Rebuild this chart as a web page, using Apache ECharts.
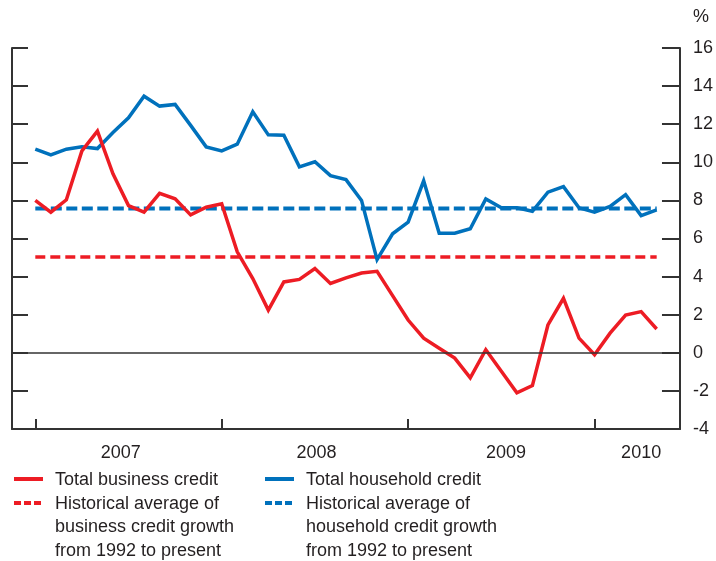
<!DOCTYPE html>
<html>
<head>
<meta charset="utf-8">
<title>Business and household credit growth</title>
<script src="https://cdn.jsdelivr.net/npm/echarts@6/dist/echarts.min.js"></script>
<style>
  html, body { margin: 0; padding: 0; background: #fff; }
  #chart { width: 716px; height: 561px; }
</style>
</head>
<body>
<div id="chart"></div>
<script>
// monthly, Jan 2007 .. May 2010 (index 0 = Jan 2007)
const businessCredit = [8.0, 7.38, 8.03, 10.6, 11.64, 9.4, 7.73, 7.38, 8.37, 8.08, 7.24, 7.64,
  7.82, 5.3, 3.9, 2.24, 3.72, 3.85, 4.42, 3.64, 3.93, 4.19, 4.28, 3.0,
  1.72, 0.77, 0.24, -0.28, -1.32, 0.16, -0.97, -2.1, -1.72, 1.46, 2.86, 0.77,
  -0.1, 1.03, 1.98, 2.16, 1.25]
const householdCredit = [10.69, 10.39, 10.69, 10.81, 10.72, 11.56, 12.34, 13.47, 12.95, 13.04, 11.94, 10.81,
  10.6, 10.95, 12.65, 11.44, 11.42, 9.76, 10.03, 9.3, 9.09, 8.0, 4.89, 6.25,
  6.86, 9.03, 6.28, 6.28, 6.51, 8.08, 7.61, 7.61, 7.43, 8.43, 8.72, 7.61,
  7.38, 7.68, 8.3, 7.2, 7.5]
const businessAvg = 5.03
const householdAvg = 7.57

const yearTicks = [0, 12, 24, 36]
const yearLabelPos = [5.5, 18.1, 30.3, 39.0]
const yearLabels = ['2007', '2008', '2009', '2010']

const RED = '#ed1c24'
const BLUE = '#0071bc'
const INK = '#231f20'
const FONT = '"Liberation Sans", Arial, sans-serif'

const months = businessCredit.map((v, i) => i)
const toPairs = arr => arr.map((v, i) => [months[i], v])
const flat = v => [[months[0], v], [months[months.length - 1], v]]

const chart = echarts.init(document.getElementById('chart'))

const yBase = {
  type: 'value',
  min: -4,
  max: 16,
  interval: 2,
  splitLine: { show: false },
  axisLine: { show: true, onZero: false, lineStyle: { color: '#333', width: 2 } }
}

const legendRows = [
  { x: 14, color: RED, dash: null, lines: ['Total business credit'], y: 480 },
  { x: 265, color: BLUE, dash: null, lines: ['Total household credit'], y: 480 },
  { x: 14, color: RED, dash: [7, 3], lines: ['Historical average of', 'business credit growth', 'from 1992 to present'], y: 504 },
  { x: 265, color: BLUE, dash: [7, 3], lines: ['Historical average of', 'household credit growth', 'from 1992 to present'], y: 504 }
]

const graphics = []
legendRows.forEach(r => {
  graphics.push({
    type: 'line',
    shape: { x1: r.x, y1: r.y - 1, x2: r.x + 29, y2: r.y - 1 },
    style: { stroke: r.color, lineWidth: 4, lineDash: r.dash }
  })
  r.lines.forEach((t, k) => {
    graphics.push({
      type: 'text',
      x: r.x + 41,
      y: r.y + k * 23.5,
      style: { text: t, fill: INK, font: '18px ' + FONT, verticalAlign: 'middle' }
    })
  })
})
graphics.push({
  type: 'text', x: 693, y: 17,
  style: { text: '%', fill: INK, font: '18px ' + FONT, verticalAlign: 'middle' }
})

chart.setOption({
  animation: false,
  textStyle: { fontFamily: FONT },
  grid: { left: 12, right: 35, top: 48, bottom: 132 },
  xAxis: {
    type: 'value',
    min: -1.5,
    max: 41.5,
    splitLine: { show: false },
    axisLine: { show: true, onZero: false, lineStyle: { color: '#333', width: 2 } },
    axisTick: {
      show: true, inside: true, length: 10,
      customValues: yearTicks,
      lineStyle: { color: '#333', width: 2 }
    },
    axisLabel: {
      customValues: yearLabelPos,
      margin: 15,
      color: INK,
      fontSize: 18,
      formatter: v => yearLabels[yearLabelPos.indexOf(v)] || ''
    }
  },
  yAxis: [
    Object.assign({}, yBase, {
      position: 'right',
      axisTick: { show: true, inside: true, length: 18, lineStyle: { color: '#333', width: 2 } },
      axisLabel: { color: INK, fontSize: 18, align: 'left', margin: 13 }
    }),
    Object.assign({}, yBase, {
      position: 'left',
      axisTick: { show: true, inside: true, length: 16, lineStyle: { color: '#333', width: 2 } },
      axisLabel: { show: false }
    })
  ],
  graphic: graphics,
  series: [
    {
      name: 'Historical average of business credit growth from 1992 to present',
      type: 'line',
      data: flat(businessAvg),
      symbol: 'none',
      lineStyle: { color: RED, width: 3.5, type: [10, 5] },
      markLine: {
        silent: true,
        symbol: 'none',
        label: { show: false },
        lineStyle: { color: '#333', width: 1.5, type: 'solid' },
        data: [{ yAxis: 0 }]
      },
      z: 2
    },
    {
      name: 'Historical average of household credit growth from 1992 to present',
      type: 'line',
      data: flat(householdAvg),
      symbol: 'none',
      lineStyle: { color: BLUE, width: 4, type: [11, 4.5] },
      z: 2
    },
    {
      name: 'Total household credit',
      type: 'line',
      data: toPairs(householdCredit),
      symbol: 'none',
      lineStyle: { color: BLUE, width: 3.5, join: 'miter' },
      z: 3
    },
    {
      name: 'Total business credit',
      type: 'line',
      data: toPairs(businessCredit),
      symbol: 'none',
      lineStyle: { color: RED, width: 3.5, join: 'miter' },
      z: 4
    }
  ]
})
</script>
</body>
</html>
